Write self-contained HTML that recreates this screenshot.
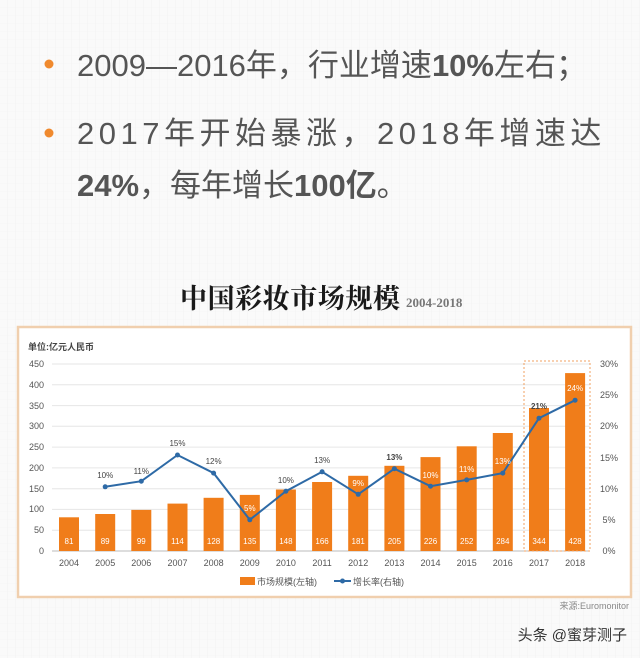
<!DOCTYPE html>
<html><head><meta charset="utf-8"><style>
html,body{margin:0;padding:0;background:#fbfbfb;}
svg{display:block}
</style></head><body>
<svg width="640" height="658" viewBox="0 0 640 658" xmlns="http://www.w3.org/2000/svg" font-family="Liberation Sans, Noto Sans CJK SC, sans-serif">
<defs><pattern id="g" width="8" height="8" patternUnits="userSpaceOnUse"><path d="M8 0V8H0" fill="none" stroke="#efefef" stroke-width="0.6"/></pattern></defs>
<rect width="640" height="658" fill="#fafafa"/>
<rect width="640" height="658" fill="url(#g)"/>
<circle cx="49" cy="64" r="4.5" fill="#f08a2e"/>
<circle cx="49" cy="133" r="4.5" fill="#f08a2e"/>
<text x="77" y="76" font-size="31" fill="#555">2009—2016年，行业增速<tspan font-weight="bold">10%</tspan>左右；</text>
<text x="77" y="144" font-size="31" fill="#555" letter-spacing="4.5">2017年开始暴涨，2018年增速达</text>
<text x="77" y="196" font-size="31" fill="#555"><tspan font-weight="bold">24%</tspan>，每年增长<tspan font-weight="bold">100亿</tspan>。</text>
<text x="180" y="308" font-size="27" font-weight="bold" fill="#1a1a1a" font-family="Liberation Serif, Noto Serif CJK SC, serif" textLength="220">中国彩妆市场规模</text>
<text x="406" y="307" font-size="13" fill="#777" font-family="Liberation Serif, serif" font-weight="bold">2004-2018</text>
<rect x="18" y="327" width="613" height="270" fill="#fff" stroke="#f0cfae" stroke-width="2.5"/>
<text x="28" y="350" font-size="9" font-weight="bold" fill="#444">单位:亿元人民币</text>
<g stroke="#e6e6e6" stroke-width="1">
<line x1="52" x2="590" y1="364" y2="364"/><line x1="52" x2="590" y1="384.8" y2="384.8"/><line x1="52" x2="590" y1="405.6" y2="405.6"/><line x1="52" x2="590" y1="426.3" y2="426.3"/><line x1="52" x2="590" y1="447.1" y2="447.1"/><line x1="52" x2="590" y1="467.9" y2="467.9"/><line x1="52" x2="590" y1="488.7" y2="488.7"/><line x1="52" x2="590" y1="509.4" y2="509.4"/><line x1="52" x2="590" y1="530.2" y2="530.2"/>
</g>
<line x1="52" x2="590" y1="551" y2="551" stroke="#bbb"/>
<g font-size="9" fill="#555" text-anchor="end">
<text x="44" y="367">450</text><text x="44" y="388">400</text><text x="44" y="409">350</text><text x="44" y="429">300</text><text x="44" y="450">250</text><text x="44" y="471">200</text><text x="44" y="492">150</text><text x="44" y="512">100</text><text x="44" y="533">50</text><text x="44" y="554">0</text>
</g>
<g font-size="9" fill="#555" text-anchor="middle">
<text x="609" y="367">30%</text><text x="609" y="398">25%</text><text x="609" y="429">20%</text><text x="609" y="461">15%</text><text x="609" y="492">10%</text><text x="609" y="523">5%</text><text x="609" y="554">0%</text>
</g>
<g fill="#f07d1a">
<rect x="59" y="517.3" width="20" height="33.7"/><rect x="95.2" y="514" width="20" height="37"/><rect x="131.3" y="509.9" width="20" height="41.1"/><rect x="167.5" y="503.6" width="20" height="47.4"/><rect x="203.6" y="497.8" width="20" height="53.2"/><rect x="239.8" y="494.9" width="20" height="56.1"/><rect x="275.9" y="489.5" width="20" height="61.5"/><rect x="312.1" y="482" width="20" height="69"/><rect x="348.2" y="475.8" width="20" height="75.2"/><rect x="384.4" y="465.8" width="20" height="85.2"/><rect x="420.5" y="457.1" width="20" height="93.9"/><rect x="456.7" y="446.3" width="20" height="104.7"/><rect x="492.8" y="433" width="20" height="118"/><rect x="529" y="408" width="20" height="143"/><rect x="565.1" y="373.1" width="20" height="177.9"/>
</g>
<rect x="524" y="361" width="66" height="190" fill="none" stroke="#f0a060" stroke-dasharray="2,2" stroke-width="1"/>
<g font-size="8" fill="#fff" text-anchor="middle">
<text x="69" y="544">81</text><text x="105.2" y="544">89</text><text x="141.3" y="544">99</text><text x="177.5" y="544">114</text><text x="213.6" y="544">128</text><text x="249.8" y="544">135</text><text x="285.9" y="544">148</text><text x="322.1" y="544">166</text><text x="358.2" y="544">181</text><text x="394.4" y="544">205</text><text x="430.5" y="544">226</text><text x="466.7" y="544">252</text><text x="502.8" y="544">284</text><text x="539" y="544">344</text><text x="575.1" y="544">428</text>
</g>
<polyline fill="none" stroke="#2e6aa6" stroke-width="2" points="105.2,486.8 141.3,481.2 177.5,455 213.6,473.1 249.8,519.8 285.9,491.2 322.1,471.8 358.2,494.3 394.4,468.7 430.5,486.2 466.7,479.9 502.8,473.1 539,418.2 575.1,400.2"/>
<g fill="#2e6aa6">
<circle cx="105.2" cy="486.8" r="2.5"/><circle cx="141.3" cy="481.2" r="2.5"/><circle cx="177.5" cy="455" r="2.5"/><circle cx="213.6" cy="473.1" r="2.5"/><circle cx="249.8" cy="519.8" r="2.5"/><circle cx="285.9" cy="491.2" r="2.5"/><circle cx="322.1" cy="471.8" r="2.5"/><circle cx="358.2" cy="494.3" r="2.5"/><circle cx="394.4" cy="468.7" r="2.5"/><circle cx="430.5" cy="486.2" r="2.5"/><circle cx="466.7" cy="479.9" r="2.5"/><circle cx="502.8" cy="473.1" r="2.5"/><circle cx="539" cy="418.2" r="2.5"/><circle cx="575.1" cy="400.2" r="2.5"/>
</g>
<g font-size="8" fill="#444" text-anchor="middle">
<text x="105.2" y="478">10%</text><text x="141.3" y="474">11%</text><text x="177.5" y="446">15%</text><text x="213.6" y="464">12%</text><text x="249.8" y="511" fill="#fff">5%</text><text x="285.9" y="483">10%</text><text x="322.1" y="463">13%</text><text x="358.2" y="486" fill="#fff">9%</text><text x="394.4" y="460" font-weight="bold">13%</text><text x="430.5" y="478" fill="#fff">10%</text><text x="466.7" y="472" fill="#fff">11%</text><text x="502.8" y="464" fill="#fff">13%</text><text x="539" y="409" font-weight="bold">21%</text><text x="575.1" y="391" fill="#fff">24%</text>
</g>
<g font-size="9" fill="#555" text-anchor="middle">
<text x="69" y="566">2004</text><text x="105.2" y="566">2005</text><text x="141.3" y="566">2006</text><text x="177.5" y="566">2007</text><text x="213.6" y="566">2008</text><text x="249.8" y="566">2009</text><text x="285.9" y="566">2010</text><text x="322.1" y="566">2011</text><text x="358.2" y="566">2012</text><text x="394.4" y="566">2013</text><text x="430.5" y="566">2014</text><text x="466.7" y="566">2015</text><text x="502.8" y="566">2016</text><text x="539" y="566">2017</text><text x="575.1" y="566">2018</text>
</g>
<rect x="240" y="577" width="15" height="8" fill="#f07d1a"/>
<text x="257" y="585" font-size="9" fill="#555">市场规模(左轴)</text>
<line x1="334" x2="351" y1="581" y2="581" stroke="#2e6aa6" stroke-width="2"/>
<circle cx="342.5" cy="581" r="2.5" fill="#2e6aa6"/>
<text x="353" y="585" font-size="9" fill="#555">增长率(右轴)</text>
<text x="629" y="609" font-size="9" fill="#888" text-anchor="end">来源:Euromonitor</text>
<text x="627" y="640" font-size="15" fill="#333" text-anchor="end">头条 @蜜芽测子</text>
</svg>
</body></html>
